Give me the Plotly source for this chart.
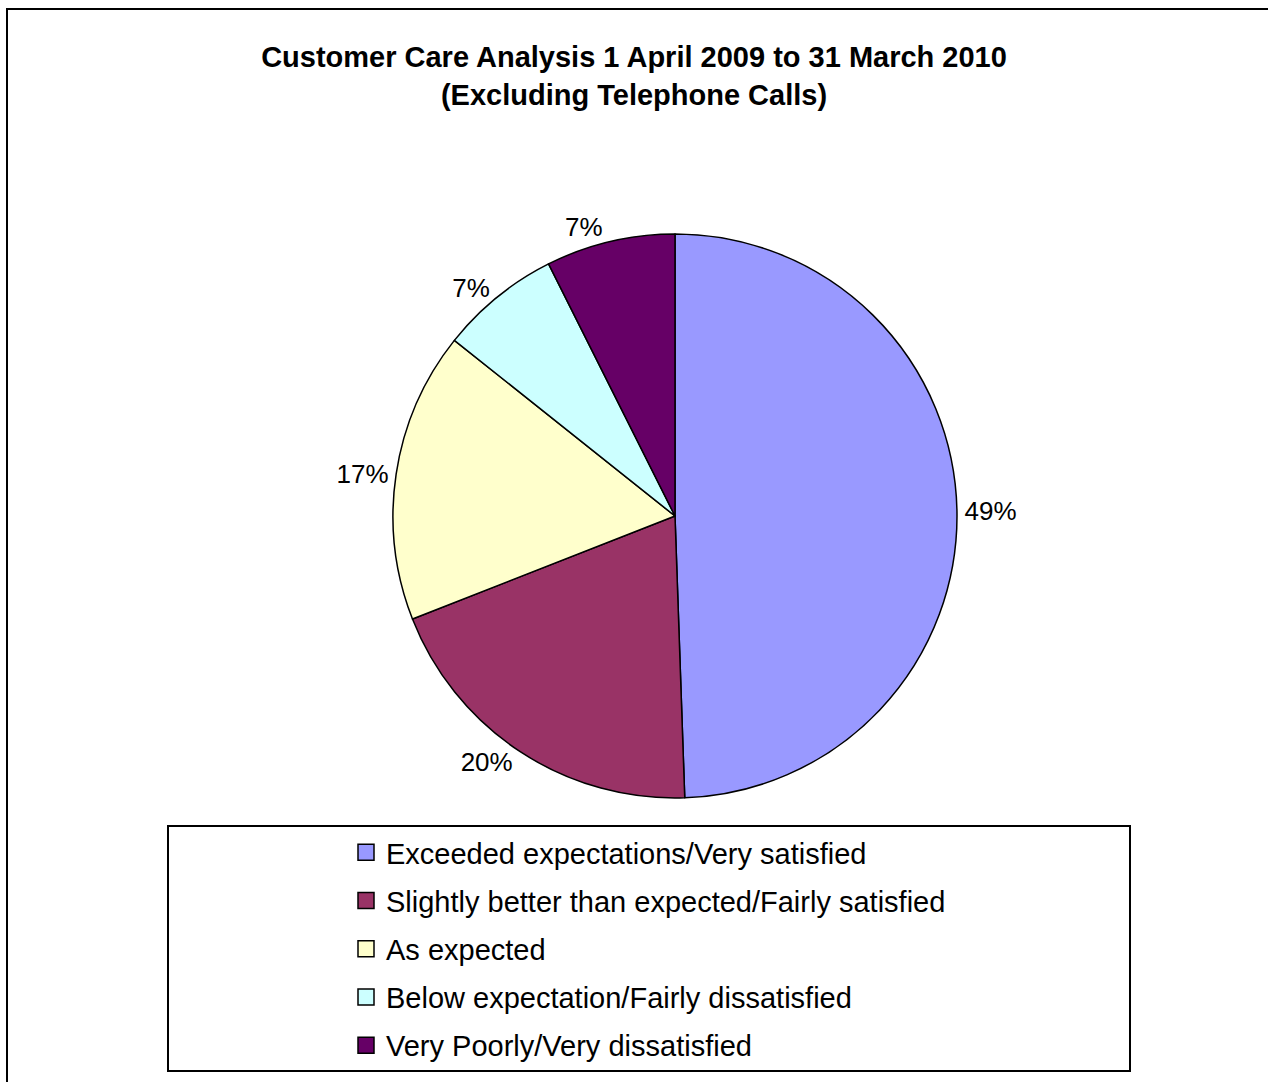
import plotly.graph_objects as go

categories = [
    "Exceeded expectations/Very satisfied",
    "Slightly better than expected/Fairly satisfied",
    "As expected",
    "Below expectation/Fairly dissatisfied",
    "Very Poorly/Very dissatisfied",
]
shares = [49.45, 19.6, 16.65, 6.9, 7.4]
colors = ["#9999FF", "#993366", "#FFFFCC", "#CCFFFF", "#660066"]

FONT = "Liberation Sans, Arial, sans-serif"
W, H = 1268, 1082

fig = go.Figure()

fig.add_trace(go.Pie(
    labels=categories,
    values=shares,
    sort=False,
    direction="clockwise",
    rotation=0,
    marker=dict(colors=colors, line=dict(color="black", width=1.5)),
    textinfo="percent",
    texttemplate="%{percent:.0%}",
    textposition="outside",
    outsidetextfont=dict(family=FONT, size=26, color="black"),
    showlegend=False,
    hoverinfo="label+percent",
    domain=dict(x=[393 / W, 957 / W], y=[1 - 798 / H, 1 - 234 / H]),
))

for i, (name, col) in enumerate(zip(categories, colors)):
    fig.add_trace(go.Scatter(
        x=[None], y=[None], mode="markers", name=name,
        legendgroup=f"g{i}",
        marker=dict(symbol="square", size=16, color=col,
                    line=dict(color="black", width=1.5)),
        showlegend=True, hoverinfo="skip",
    ))

fig.update_layout(
    width=W, height=H,
    margin=dict(l=0, r=0, t=0, b=0),
    paper_bgcolor="white", plot_bgcolor="white",
    xaxis=dict(visible=False), yaxis=dict(visible=False),
    title=dict(
        text="Customer Care Analysis 1 April 2009 to 31 March 2010<br>(Excluding Telephone Calls)",
        font=dict(family=FONT, size=29, color="black", weight="bold"),
        x=0.5, xanchor="center", y=1 - 67 / H, yanchor="middle",
    ),
    legend=dict(
        x=346 / W, xanchor="left", y=1 - 827 / H, yanchor="top",
        font=dict(family=FONT, size=29, color="black"),
        bgcolor="rgba(0,0,0,0)", borderwidth=0,
        traceorder="grouped", tracegroupgap=7.5, itemsizing="trace",
    ),
    shapes=[
        dict(type="rect", xref="paper", yref="paper",
             x0=168 / W, x1=1130 / W, y0=1 - 1071 / H, y1=1 - 826 / H,
             line=dict(color="black", width=2), fillcolor="rgba(0,0,0,0)"),
        dict(type="rect", xref="paper", yref="paper",
             x0=7 / W, x1=1.02, y0=-0.02, y1=1 - 9 / H,
             line=dict(color="black", width=2), fillcolor="rgba(0,0,0,0)"),
    ],
)

fig.write_html("out.html")
